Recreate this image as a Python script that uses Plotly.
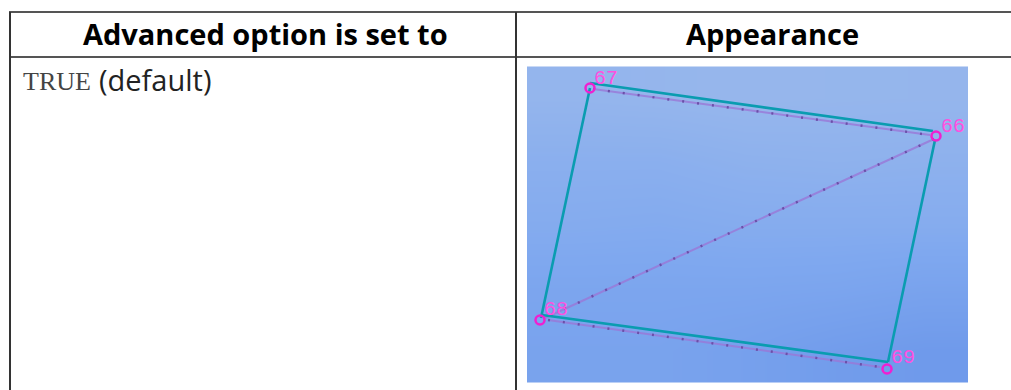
import plotly.graph_objects as go

# table text
header_labels = ["Advanced option is set to", "Appearance"]
code_text = "TRUE"
default_text = "(default)"

# picture background, light at the top, darker toward the bottom right
bg_x = [571, 659, 747, 836, 924]
bg_y = [98, 161, 225, 288, 351]
bg_z = [
    [0.90, 0.92, 0.95, 0.93, 0.92],
    [0.72, 0.72, 0.78, 0.80, 0.78],
    [0.60, 0.58, 0.62, 0.62, 0.62],
    [0.42, 0.42, 0.42, 0.40, 0.34],
    [0.34, 0.34, 0.26, 0.14, 0.06],
]
bg_scale = [[0, "#6d98ea"], [0.5, "#7fa8ef"], [1, "#99b8ec"]]

# model edges in the screenshot
teal_x = [590, 933, None, 935, 888, None, 888, 542, None, 541, 590]
teal_y = [83, 131, None, 140, 362, None, 362, 315, None, 318, 88]
purple_x = [593, 930, None, 934, 545, None, 548, 880]
purple_y = [89, 135, None, 139, 318, None, 320, 367]

# nodes
node_ids = ["67", "66", "68", "69"]
node_x = [590, 936, 540, 887]
node_y = [88, 136, 320, 369]
label_x = [594, 941, 544, 891]
label_y = [79, 127, 310, 358]

fig = go.Figure()

fig.add_trace(go.Heatmap(x=bg_x, y=bg_y, z=bg_z, colorscale=bg_scale, zmin=0, zmax=1,
    zsmooth="best", showscale=False, hoverinfo="skip"))
fig.add_trace(go.Scatter(x=purple_x, y=purple_y, mode="lines",
    line=dict(color="#9a78d8", width=2), opacity=0.8, hoverinfo="skip"))
fig.add_trace(go.Scatter(x=purple_x, y=purple_y, mode="lines",
    line=dict(color="#6a50a8", width=2.5, dash="2px,13px"), hoverinfo="skip"))
fig.add_trace(go.Scatter(x=teal_x, y=teal_y, mode="lines",
    line=dict(color="#0a9cb0", width=2.6), hoverinfo="skip"))
fig.add_trace(go.Scatter(x=node_x, y=node_y, mode="markers",
    marker=dict(symbol="circle-open", size=9, color="#f020d0", line=dict(width=2.5)),
    hoverinfo="skip"))
fig.add_trace(go.Scatter(x=label_x, y=label_y, mode="text", text=node_ids,
    textposition="middle right",
    textfont=dict(family="Liberation Mono", size=20, color="#ff4fe0"),
    hoverinfo="skip"))

# table rules
line = dict(color="#555555", width=2)
fig.add_shape(type="line", x0=9, x1=1011, y0=12, y1=12, line=line)
fig.add_shape(type="line", x0=9, x1=1011, y0=57, y1=57, line=line)
fig.add_shape(type="line", x0=10, x1=10, y0=12, y1=390, line=dict(color="#333333", width=2))
fig.add_shape(type="line", x0=516, x1=516, y0=12, y1=390, line=dict(color="#333333", width=2))

# table text
bold = dict(family="Open Sans", size=29, color="#000000")
fig.add_annotation(x=265, y=33, text="<b>" + header_labels[0] + "</b>", showarrow=False, font=bold)
fig.add_annotation(x=772, y=33, text="<b>" + header_labels[1] + "</b>", showarrow=False, font=bold)
fig.add_annotation(x=21, y=81, text=code_text, showarrow=False, xanchor="left",
    font=dict(family="Liberation Serif", size=26, color="#444444"))
fig.add_annotation(x=97, y=79, text=default_text, showarrow=False, xanchor="left",
    font=dict(family="Open Sans", size=29, color="#222222"))

fig.update_xaxes(range=[0, 1011], visible=False, fixedrange=True)
fig.update_yaxes(range=[390, 0], visible=False, fixedrange=True)
fig.update_layout(width=1011, height=390, margin=dict(l=0, r=0, t=0, b=0),
    paper_bgcolor="#ffffff", plot_bgcolor="#ffffff", showlegend=False)

# the page's default body margin would push the figure 8px in
fig.write_html("out.html", config=dict(displayModeBar=False),
    post_script="document.body.style.margin='0';")
